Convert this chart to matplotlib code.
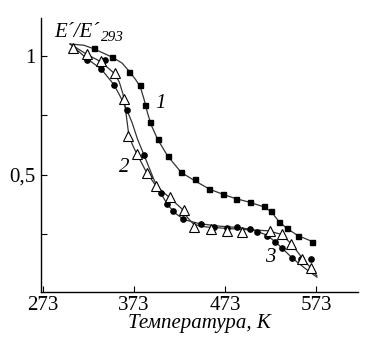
import matplotlib
matplotlib.use("Agg")
import matplotlib.pyplot as plt

plt.rcParams['font.family'] = ['Liberation Serif', 'DejaVu Serif']

# Sample 1 (squares)
t1 = [329, 349, 368, 380, 385, 391, 399, 410, 425, 440, 456, 471, 485, 501,
      516, 524, 532, 541, 553, 569]
e1 = [1.035, 0.997, 0.934, 0.878, 0.794, 0.724, 0.651, 0.581, 0.511, 0.481,
      0.440, 0.420, 0.399, 0.385, 0.368, 0.346, 0.301, 0.276, 0.244, 0.217]

# Sample 2 (filled circles)
t2 = [321, 337, 341, 351, 365, 384, 403, 409, 416, 427, 447, 461, 475, 486,
      501, 508, 519, 528, 536, 547, 557, 568]
e2 = [0.983, 0.944, 0.982, 0.877, 0.773, 0.584, 0.423, 0.378, 0.347, 0.315,
      0.294, 0.280, 0.277, 0.280, 0.272, 0.261, 0.242, 0.219, 0.191, 0.152,
      0.146, 0.146]

# Sample 3 (open triangles)
t3 = [306, 322, 337, 352, 362, 367, 376, 387, 397, 413, 428, 439, 458, 475,
      492, 522, 536, 546, 558, 567]
e3 = [1.032, 1.007, 0.979, 0.927, 0.818, 0.664, 0.589, 0.507, 0.455, 0.405,
      0.353, 0.279, 0.273, 0.265, 0.261, 0.266, 0.250, 0.208, 0.148, 0.107]

# Fitted curves
c1_t = [303, 318, 329, 349, 360, 368, 375, 380, 384, 388, 392, 399, 410, 425,
        440, 456, 471, 485, 501, 516, 524, 532, 541, 553, 572]
c1_e = [1.05, 1.045, 1.03, 0.995, 0.97, 0.935, 0.90, 0.87, 0.82, 0.76, 0.71,
        0.65, 0.58, 0.51, 0.475, 0.44, 0.418, 0.40, 0.384, 0.365, 0.345,
        0.305, 0.275, 0.245, 0.215]
c2_t = [303, 321, 337, 351, 358, 365, 371, 377, 384, 395, 403, 410, 418, 428,
        445, 465, 490, 505, 520, 535, 547, 560, 574]
c2_e = [1.05, 0.99, 0.945, 0.88, 0.83, 0.775, 0.72, 0.65, 0.585, 0.48, 0.42,
        0.375, 0.34, 0.312, 0.295, 0.285, 0.278, 0.268, 0.245, 0.195, 0.15,
        0.11, 0.07]
c3_t = [303, 322, 337, 352, 357, 361, 364, 367, 371, 376, 387, 397, 412, 425,
        432, 438, 445, 455, 475, 495, 520, 535, 546, 558, 567, 574]
c3_e = [1.05, 1.005, 0.975, 0.925, 0.89, 0.84, 0.77, 0.68, 0.63, 0.59, 0.51,
        0.455, 0.405, 0.36, 0.32, 0.295, 0.285, 0.28, 0.275, 0.27, 0.265,
        0.25, 0.21, 0.15, 0.11, 0.075]

x_ticks = [273, 373, 473, 573]
y_ticks = [0.25, 0.5, 0.75, 1.0]
y_labels = ["", "0,5", "", "1"]

fig = plt.figure(figsize=(3.85, 3.5), dpi=100)
ax = fig.add_axes([0.1065, 0.166, 0.823, 0.783])

ax.plot(c1_t, c1_e, color='#333333', lw=0.9)
ax.plot(c2_t, c2_e, color='#333333', lw=0.9)
ax.plot(c3_t, c3_e, color='#333333', lw=0.9)

ax.plot(t1, e1, 's', color='black', ms=3.6, ls='none')
ax.plot(t2, e2, 'o', color='black', ms=3.8, ls='none')
ax.plot(t3, e3, '^', mfc='white', mec='black', mew=0.8, ms=7.5, ls='none')

ax.text(396, 0.78, "1", fontsize=15, style='italic')
ax.text(357, 0.51, "2", fontsize=15, style='italic')
ax.text(517, 0.132, "3", fontsize=15, style='italic')

ax.set_xlim(271, 619)
ax.set_ylim(0.008, 1.16)
ax.set_xticks(x_ticks)
ax.set_yticks(y_ticks)
ax.set_yticklabels(y_labels)
ax.tick_params(direction='in', length=4, width=0.8, labelsize=15, pad=4)
ax.tick_params(axis='x', pad=3)

for side in ['top', 'right']:
    ax.spines[side].set_visible(False)
for side in ['left', 'bottom']:
    ax.spines[side].set_linewidth(1.0)

ax.set_xlabel("Температура, К", fontsize=15, style='italic', labelpad=-1)

# y-axis label at the top: E´/E´ with subscript 293
fig.text(0.140, 0.893, "E´/E´", fontsize=15, style='italic', va='baseline')
fig.text(0.262, 0.884, "293", fontsize=11, style='italic', va='baseline')

fig.savefig("out.png", dpi=100)
